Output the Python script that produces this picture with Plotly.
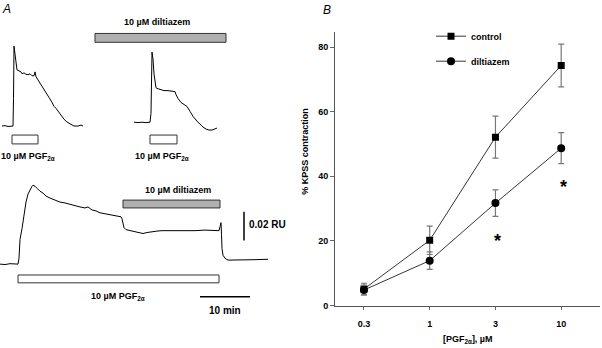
import plotly.graph_objects as go

# ---------------- Panel B data ----------------
conc_labels = ["0.3", "1", "3", "10"]
conc_pos = [0, 1, 2, 3]
control_mean = [5.1, 20.2, 52.1, 74.3]
control_sem = [1.8, 4.4, 6.5, 6.6]
dilt_mean = [4.8, 13.9, 31.7, 48.7]
dilt_sem = [1.5, 2.7, 4.1, 4.8]
y_ticks = [0, 20, 40, 60, 80]
signif_pos = [2, 3]
signif_y = [21.9, 38.4]

# ---------------- Panel A data (time in min, response in mRU) ----------------
# top-left trace: PGF2alpha alone
t_top1 = [0, 0.6, 1.2, 1.8, 2.2, 2.3, 2.4, 2.6, 2.8, 3.0, 3.4, 3.8, 4.0, 4.4, 4.8, 5.2,
          5.6, 6.0, 6.4, 6.6, 6.8, 7.2, 7.6, 8.2, 8.8, 9.4, 10.0, 10.4, 10.8, 11.2,
          11.8, 12.4, 13.0, 13.6, 14.4, 15.2, 15.8, 16.2]
r_top1 = [0, 0.3, -0.3, 0, 0, 19.3, 55.9, 50.3, 43.4, 39.3, 38.6, 37.9, 36.6, 37.2, 36.2, 35.9,
          36.6, 35.2, 35.2, 37.9, 34.5, 32.4, 30.3, 26.9, 23.4, 20.0, 16.6, 13.8, 12.4, 10.3,
          7.6, 4.8, 2.8, 1.4, 0, 0, 0.7, 0]
# top-right trace: PGF2alpha in presence of diltiazem
t_top2 = [0, 0.8, 1.6, 2.4, 3.2, 3.4, 3.6, 3.8, 4.0, 4.2, 4.4, 4.8, 5.2, 6.0, 6.8, 7.6,
          8.2, 8.4, 8.8, 9.4, 10.0, 10.6, 11.2, 11.8, 12.6, 13.2, 13.8, 14.4, 15.0,
          15.6, 16.2, 16.6]
r_top2 = [0, -0.3, 0, -0.3, 0, 6.2, 49.0, 44.1, 33.8, 26.9, 24.1, 23.4, 22.8, 22.1, 22.1, 21.4,
          21.4, 19.3, 16.6, 13.8, 12.4, 11.0, 7.6, 4.1, 0.7, -1.4, -3.4, -4.8, -5.5,
          -5.5, -4.8, -4.1]
# bottom trace: sustained PGF2alpha, diltiazem added
t_bot = [0, 1, 2, 3, 3.6, 3.8, 4.0, 4.4, 4.8, 5.2, 5.6, 6.0, 6.4, 6.6, 7.0, 7.4, 8.0, 8.6,
         9.2, 10.0, 11.0, 12.0, 13.0, 14.0, 15.0, 16.0, 17.0, 17.6, 18.4, 19.2, 20.0,
         21.0, 22.0, 23.0, 23.6, 24.2, 24.4, 24.6, 24.8, 25.2, 26.0, 27.0, 28.0, 28.6,
         29.4, 30.4, 31.4, 32.4, 33.4, 35.0, 37.0, 39.0, 41.0, 43.0, 43.8, 44.0, 44.2,
         44.3, 44.4, 44.6, 45.0, 45.6, 47.0, 49.0, 51.0, 53.6]
r_bot = [0, -0.3, 0.3, 0, 0, 4.1, 17.2, 24.8, 34.5, 43.4, 49.0, 52.4, 54.5, 55.2, 54.5, 53.1,
         51.0, 49.7, 47.6, 46.2, 44.8, 43.4, 42.8, 41.7, 40.7, 40.0, 39.3, 40.0, 37.9, 37.2,
         35.9, 35.2, 34.5, 34.1, 33.8, 33.1, 31.7, 28.3, 25.5, 24.1, 23.4, 22.8, 22.1, 21.4,
         22.1, 22.8, 23.1, 23.4, 23.4, 23.1, 23.4, 23.4, 23.8, 23.4, 23.4, 26.2, 29.0,
         20.7, 11.0, 6.2, 4.1, 2.8, 2.8, 2.8, 3.1, 3.4]

# drug application intervals (min, on the panel-A time axis)
pgf_top1 = (2.4, 7.6)
pgf_top2 = (30.0, 35.4)
dilt_top = (19.0, 45.2)
pgf_bot = (3.6, 43.8)
dilt_bot = (24.6, 44.0)
scale_ru = 20      # mRU  (0.02 RU)
scale_min = 10     # min

# ---------------- layout positions ----------------
top1_off = (0.4, 96.6)
top2_off = (26.8, 99.3)
FONT = "Liberation Sans, Arial, sans-serif"
W, H = 602, 348

fig = go.Figure()

def add_trace_a(t, r, off):
    fig.add_trace(go.Scatter(
        x=[v + off[0] for v in t], y=[v + off[1] for v in r],
        mode="lines", line=dict(color="black", width=1),
        xaxis="x", yaxis="y", showlegend=False, hoverinfo="skip"))

add_trace_a(t_top1, r_top1, top1_off)
add_trace_a(t_top2, r_top2, top2_off)
add_trace_a(t_bot, r_bot, (0, 0))

# Panel B traces
fig.add_trace(go.Scatter(
    x=conc_pos, y=control_mean, name="control", mode="lines+markers",
    line=dict(color="black", width=0.8),
    marker=dict(symbol="square", size=7, color="black"),
    error_y=dict(type="data", array=control_sem, color="#777", thickness=1.2, width=3),
    xaxis="x2", yaxis="y2", legendgroup="c"))
fig.add_trace(go.Scatter(
    x=conc_pos, y=dilt_mean, name="diltiazem", mode="lines+markers",
    line=dict(color="black", width=0.8),
    marker=dict(symbol="circle", size=8, color="black"),
    error_y=dict(type="data", array=dilt_sem, color="#777", thickness=1.2, width=3),
    xaxis="x2", yaxis="y2", legendgroup="d"))

shapes = []
def bar(x0, x1, y0, y1, fill):
    shapes.append(dict(type="rect", xref="x", yref="y", x0=x0, x1=x1, y0=y0, y1=y1,
                       fillcolor=fill, line=dict(color="#333", width=1)))

bar(*dilt_top, 155.2, 161.4, "#b0b0b0")
bar(*pgf_top1, 84.1, 90.3, "white")
bar(*pgf_top2, 84.1, 90.3, "white")
bar(*dilt_bot, 39.3, 44.8, "#b0b0b0")
bar(*pgf_bot, -13.1, -7.6, "white")
# scale bars
shapes.append(dict(type="line", xref="x", yref="y", x0=48.8, x1=48.8, y0=16.6, y1=16.6 + scale_ru,
                   line=dict(color="black", width=1.5)))
shapes.append(dict(type="line", xref="x", yref="y", x0=40, x1=40 + scale_min, y0=-22.8, y1=-22.8,
                   line=dict(color="black", width=1.5)))

ann = []
def txt(x, y, s, size=9, xanchor="center", xref="x", yref="y", italic=False, bold=True):
    ann.append(dict(x=x, y=y, xref=xref, yref=yref, text=s, showarrow=False,
                    xanchor=xanchor, yanchor="middle",
                    font=dict(family=FONT, size=size, color="black",
                              weight="bold" if bold else "normal",
                              style="italic" if italic else "normal")))

pgf_label = "10 µM PGF<sub>2α</sub>"
txt(31.4, 169.7, "10 µM diltiazem")
txt(5.6, 75.0, pgf_label)
txt(32.4, 75.0, pgf_label)
txt(35.6, 51.7, "10 µM diltiazem")
txt(49.4, 27.6, "0.02 RU", size=10, xanchor="left")
txt(23.6, -23.0, pgf_label)
txt(45, -32.4, "10 min", size=10)
txt(6 / W, 1 - 9 / H, "A", size=12, xref="paper", yref="paper", italic=True, bold=False)
txt(327 / W, 1 - 10 / H, "B", size=12, xref="paper", yref="paper", italic=True, bold=False)
for xp, yp in zip(signif_pos, signif_y):
    txt(xp + 0.03, yp - 1.8, "*", size=18, xref="x2", yref="y2", bold=True)
txt(305 / W, 1 - 154 / H, "% KPSS contraction", size=9, xref="paper", yref="paper")
ann[-1]["textangle"] = -90
txt(468 / W, 1 - 344 / H, "[PGF<sub>2α</sub>], µM", size=9, xref="paper", yref="paper")

fig.update_layout(
    width=W, height=H, margin=dict(l=0, r=0, t=0, b=0),
    paper_bgcolor="white", plot_bgcolor="white",
    font=dict(family=FONT, size=9, color="black"),
    shapes=shapes, annotations=ann,
    xaxis=dict(domain=[0, 301 / W], range=[0, 60.2], visible=False),
    yaxis=dict(domain=[0, 1], range=[-55.2, 184.8], visible=False),
    xaxis2=dict(domain=[335 / W, 600 / W], range=[-0.44, 3.59], anchor="y2",
                tickvals=conc_pos, ticktext=conc_labels, ticks="outside", ticklen=3,
                tickcolor="#666", showline=True, linecolor="#555", linewidth=1,
                showgrid=False, zeroline=False, ticklabelstandoff=7,
                tickfont=dict(family=FONT, size=9, weight="bold")),
    yaxis2=dict(domain=[1 - 310 / H, 1 - 32 / H], range=[0, 84.8], anchor="x2",
                tickvals=y_ticks, ticks="outside", ticklen=4, tickcolor="#666",
                showline=True, linecolor="#555", linewidth=1, showgrid=False,
                zeroline=False, ticklabelstandoff=0,
                tickfont=dict(family=FONT, size=9, weight="bold")),
    legend=dict(x=431 / W, y=1 - 22 / H, xanchor="left", yanchor="top",
                bgcolor="rgba(0,0,0,0)", tracegroupgap=6, itemwidth=30,
                font=dict(family=FONT, size=9, weight="bold")),
    showlegend=True,
)

fig.write_html("out.html", config={"displayModeBar": False},
               post_script="document.body.style.margin='0';")
